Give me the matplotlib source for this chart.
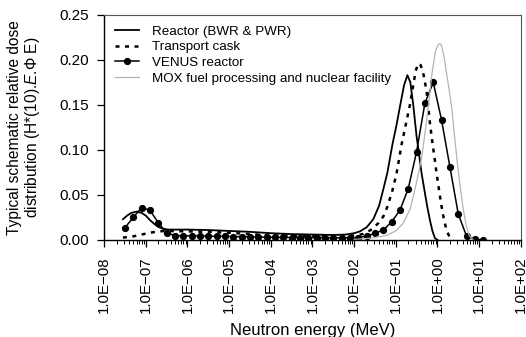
import numpy as np
import matplotlib
matplotlib.use("Agg")
import matplotlib.pyplot as plt
from matplotlib.ticker import LogLocator, FixedLocator, NullFormatter

plt.rcParams['font.family'] = ['Liberation Sans', 'DejaVu Sans']
plt.rcParams['mathtext.fontset'] = 'custom'
plt.rcParams['mathtext.rm'] = 'Liberation Sans'
plt.rcParams['mathtext.it'] = 'Liberation Sans:italic'

# log10(E / MeV) and relative dose values
reactor_loge = [-7.55, -7.45, -7.35, -7.22, -7.1, -7.0, -6.9, -6.8, -6.7, -6.6,
                -6.45, -6.0, -5.5, -5.0, -4.5, -4.0, -3.5, -3.0, -2.5, -2.2,
                -2.0, -1.86, -1.7, -1.54, -1.4, -1.3, -1.2, -1.08, -0.98, -0.9,
                -0.8, -0.72, -0.65, -0.58, -0.5, -0.44, -0.38, -0.3, -0.24, -0.18,
                -0.12, -0.06, 0.0]
reactor_val = [0.023, 0.027, 0.030, 0.0315, 0.030, 0.027, 0.022, 0.018, 0.0145, 0.0125,
               0.0115, 0.0115, 0.011, 0.010, 0.009, 0.0075, 0.0065, 0.006, 0.0055, 0.006,
               0.0075, 0.0095, 0.014, 0.023, 0.038, 0.056, 0.075, 0.106, 0.128, 0.148,
               0.172, 0.183, 0.175, 0.150, 0.115, 0.095, 0.074, 0.052, 0.036, 0.022,
               0.010, 0.002, 0.0]

cask_loge = [-7.55, -7.3, -7.1, -6.9, -6.7, -6.5, -6.0, -5.5, -5.0, -4.5,
             -4.0, -3.5, -3.0, -2.5, -2.0, -1.79, -1.6, -1.42, -1.3, -1.2,
             -1.08, -0.98, -0.86, -0.76, -0.66, -0.58, -0.52, -0.46, -0.4, -0.33,
             -0.26, -0.18, -0.12, -0.06, -0.02, 0.04, 0.10, 0.16, 0.22, 0.30, 0.38]
cask_val = [0.0026, 0.004, 0.006, 0.008, 0.0095, 0.010, 0.0095, 0.009, 0.008, 0.0065,
            0.005, 0.0045, 0.004, 0.004, 0.005, 0.0065, 0.011, 0.0185, 0.026, 0.037,
            0.055, 0.074, 0.106, 0.128, 0.150, 0.172, 0.188, 0.196, 0.194, 0.183,
            0.165, 0.130, 0.108, 0.088, 0.074, 0.055, 0.037, 0.022, 0.011, 0.002, 0.0]

venus_loge = [-7.5, -7.3, -7.1, -6.9, -6.7, -6.5, -6.3, -6.1, -5.9, -5.7,
              -5.5, -5.3, -5.1, -4.9, -4.7, -4.5, -4.3, -4.1, -3.9, -3.7,
              -3.5, -3.3, -3.1, -2.9, -2.7, -2.5, -2.3, -2.1, -1.9, -1.7,
              -1.5, -1.3, -1.1, -0.9, -0.7, -0.5, -0.3, -0.1, 0.1, 0.3,
              0.5, 0.7, 0.9, 1.1]
venus_val = [0.0137, 0.025, 0.036, 0.033, 0.019, 0.008, 0.0048, 0.0046, 0.0045, 0.0045,
             0.0042, 0.004, 0.004, 0.0038, 0.0036, 0.0035, 0.0033, 0.003, 0.003, 0.0028,
             0.0027, 0.0026, 0.0025, 0.0025, 0.0024, 0.0024, 0.0024, 0.0024, 0.0026, 0.0044,
             0.0074, 0.011, 0.020, 0.033, 0.057, 0.098, 0.152, 0.175, 0.133, 0.081,
             0.029, 0.004, 0.001, 0.0]

mox_loge = [-2.0, -1.6, -1.22, -1.0, -0.82, -0.65, -0.54, -0.45, -0.38, -0.32,
            -0.22, -0.13, -0.05, 0.02, 0.06, 0.10, 0.16, 0.22, 0.28, 0.34,
            0.42, 0.48, 0.54, 0.60, 0.68, 0.76, 0.86]
mox_val = [0.0005, 0.002, 0.005, 0.010, 0.0185, 0.035, 0.056, 0.075, 0.091, 0.111,
           0.148, 0.185, 0.209, 0.217, 0.218, 0.216, 0.203, 0.185, 0.167, 0.148,
           0.111, 0.085, 0.062, 0.040, 0.0185, 0.005, 0.0]

xtick_exp = list(range(-8, 3))

fig = plt.figure(figsize=(5.26, 3.37), dpi=100)
ax = fig.add_axes([0.198, 0.288, 0.792, 0.668])

ax.plot(10.0 ** np.array(reactor_loge), reactor_val, color='black', lw=1.3,
        label='Reactor (BWR & PWR)')
ax.plot(10.0 ** np.array(cask_loge), cask_val, color='black', lw=1.8,
        linestyle=(0, (1.6, 2.2)), label='Transport cask')
ax.plot(10.0 ** np.array(venus_loge), venus_val, color='black', lw=1.1,
        marker='o', markersize=4.2, label='VENUS reactor')
ax.plot(10.0 ** np.array(mox_loge), mox_val, color='#b4b4b4', lw=0.9,
        label='MOX fuel processing and nuclear facility')

ax.set_xscale('log')
ax.set_xlim(1e-8, 1e2)
ax.set_ylim(0, 0.25)

ax.xaxis.set_major_locator(FixedLocator([10.0 ** e for e in xtick_exp]))
ax.set_xticklabels(['1.0E%s%02d' % ('\u2212' if e < 0 else '+', abs(e)) for e in xtick_exp],
                   rotation=90, fontsize=10.8)
ax.xaxis.set_minor_locator(LogLocator(base=10, subs=np.arange(2, 10), numticks=100))
ax.xaxis.set_minor_formatter(NullFormatter())
ax.set_yticks([0, 0.05, 0.10, 0.15, 0.20, 0.25])
ax.set_yticklabels(['0.00', '0.05', '0.10', '0.15', '0.20', '0.25'], fontsize=11)

ax.tick_params(axis='both', which='major', direction='out', length=5, width=0.9)
ax.tick_params(axis='x', which='major', pad=7)
ax.tick_params(axis='y', which='major', pad=6)
ax.tick_params(axis='x', which='minor', direction='out', length=3, width=0.7)

for side in ['left', 'bottom']:
    ax.spines[side].set_linewidth(1.0)
for side in ['top', 'right']:
    ax.spines[side].set_linewidth(0.8)
    ax.spines[side].set_color('#555555')

ax.set_xlabel('Neutron energy (MeV)', fontsize=12)
ax.xaxis.set_label_coords(0.5, -0.37)
ax.set_ylabel('Typical schematic relative dose\n'
              'distribution (H*(10).$\\mathit{E}$.$\\mathit{\u03a6}$ E)',
              fontsize=11.2, linespacing=1.1)
ax.yaxis.set_label_coords(-0.148, 0.5)

ax.legend(loc='upper left', frameon=False, fontsize=9.6, handlelength=1.8,
          handletextpad=1.0, labelspacing=0.25, borderaxespad=0.4,
          bbox_to_anchor=(0.0, 1.0))

fig.savefig('out.png', dpi=100)
